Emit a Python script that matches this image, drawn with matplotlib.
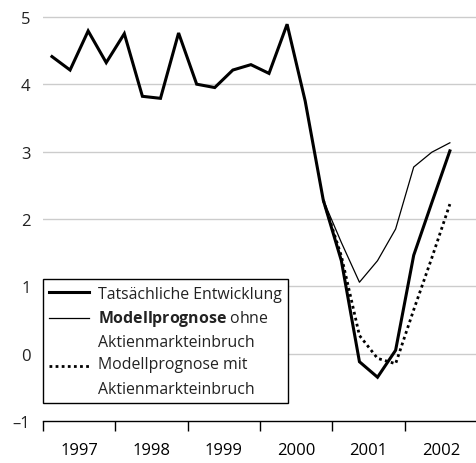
import numpy as np
import matplotlib.pyplot as plt

plt.rcParams['font.family'] = ['Open Sans', 'DejaVu Sans']
plt.rcParams['mathtext.fontset'] = 'custom'
plt.rcParams['mathtext.rm'] = 'Open Sans'
plt.rcParams['mathtext.bf'] = 'Open Sans:bold'

# quarterly data, 1997Q1 .. 2002Q3
actual = [4.41, 4.21, 4.79, 4.32,
          4.75, 3.82, 3.79, 4.76,
          4.00, 3.95, 4.21, 4.29,
          4.16, 4.89, 3.75, 2.28,
          1.38, -0.12, -0.35, 0.05,
          1.46, 2.24, 3.01]
# model forecasts start at 2000Q4
ohne = [2.28, 1.65, 1.06, 1.38, 1.85, 2.77, 2.99, 3.13]
mit = [2.28, 1.45, 0.27, -0.07, -0.15, 0.65, 1.42, 2.22]
years = [1997, 1998, 1999, 2000, 2001, 2002]

t = 1997 + 0.125 + 0.25 * np.arange(len(actual))
t_model = t[-len(ohne):]

fig = plt.figure(figsize=(4.77, 4.64), dpi=100)
ax = fig.add_axes([0.09, 0.0905, 0.91, 0.874])

ax.plot(t, actual, color='black', lw=2.2, solid_joinstyle='miter',
        label='Tatsächliche Entwicklung', zorder=4)
ax.plot(t_model, ohne, color='black', lw=0.9,
        label=r'$\mathbf{Modellprognose}$ ohne' + '\nAktienmarkteinbruch', zorder=3)
ax.plot(t_model, mit, color='black', lw=2.0, linestyle=(0, (1, 1.2)),
        label='Modellprognose mit\nAktienmarkteinbruch', zorder=3)

ax.set_xlim(1997, 2003)
ax.set_ylim(-1, 5.02)
ax.set_yticks([-1, 0, 1, 2, 3, 4, 5])
ax.set_yticklabels(['–1', '0', '1', '2', '3', '4', '5'])
for y in range(0, 6):
    ax.axhline(y, color='#cccccc', lw=1.0, zorder=1)

ax.set_xticks([y for y in years] + [2003])
ax.set_xticklabels([])
ax.set_xticks([y + 0.5 for y in years], minor=True)
ax.set_xticklabels([str(y) for y in years], minor=True)
ax.tick_params(axis='x', which='major', length=7, width=1.0, direction='out', color='black')
ax.tick_params(axis='x', which='minor', length=0, pad=15, labelsize=12)
ax.tick_params(axis='y', length=0, pad=9, labelsize=12, labelcolor='#222222')
ax.tick_params(axis='x', labelcolor='#222222')

for s in ['top', 'right', 'left']:
    ax.spines[s].set_visible(False)
ax.spines['bottom'].set_linewidth(1.0)

leg = ax.legend(loc='lower left', bbox_to_anchor=(0.0, 0.044), frameon=True,
                fancybox=False, edgecolor='black', framealpha=1, fontsize=11.4,
                handlelength=2.5, handletextpad=0.55, borderpad=0.4,
                labelspacing=0.42, borderaxespad=0)
leg.get_frame().set_linewidth(1.0)
texts = leg.get_texts()
texts[1].set_linespacing(1.45)
texts[2].set_linespacing(1.7)
for txt in texts:
    txt.set_color('#222222')
# put the handles of two-line entries next to their first line
for h in leg.legend_handles[1:]:
    h.set_ydata(np.asarray(h.get_ydata()) + 8.0)

fig.savefig('out.png', dpi=100)
